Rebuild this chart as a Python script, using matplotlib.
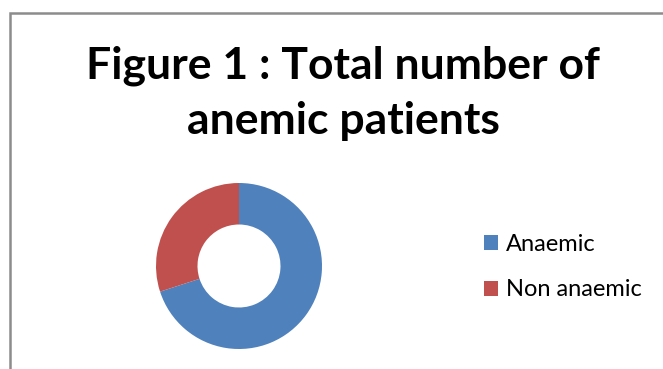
import matplotlib.pyplot as plt
from matplotlib.patches import Rectangle, Patch

# Chart data
labels = ["Anaemic", "Non anaemic"]
values = [70, 30]
colors = ["#4F81BD", "#C0504D"]
title_lines = ["Figure 1 : Total number of", "anemic patients"]

W, H = 663, 369
fig = plt.figure(figsize=(W / 100, H / 100), dpi=100)
fig.patch.set_facecolor("white")

# gray chart border (right and bottom run off the picture)
fig.patches.append(Rectangle((9.5 / W, -0.2), 1.2, 1.2 - 13 / H,
                             transform=fig.transFigure, fill=False,
                             edgecolor="#8c8c8c", linewidth=1.8))

# title, two lines
for line, base in zip(title_lines, [78, 134]):
    fig.text(343 / W, 1 - base / H, line, ha="center", va="baseline",
             fontsize=32, fontweight="bold", family="Lato")

# donut
cx, cy, r = 239, 266, 83
ax = fig.add_axes([(cx - r) / W, (H - cy - r) / H, 2 * r / W, 2 * r / H])
ax.pie(values, colors=colors, startangle=90, counterclock=False, radius=1,
       wedgeprops=dict(width=0.5, edgecolor="none"))
ax.set_xlim(-1, 1)
ax.set_ylim(-1, 1)
ax.set_aspect("equal")
ax.axis("off")

# legend
handles = [Patch(facecolor=c, edgecolor="none") for c in colors]
fig.legend(handles, labels, loc="center left",
           bbox_to_anchor=(463 / W, 1 - 267 / H), frameon=False,
           prop=dict(family="Lato", size=17), handlelength=0.6,
           handleheight=0.6, handletextpad=0.3, labelspacing=1.05)

plt.savefig("out.png", dpi=100)
